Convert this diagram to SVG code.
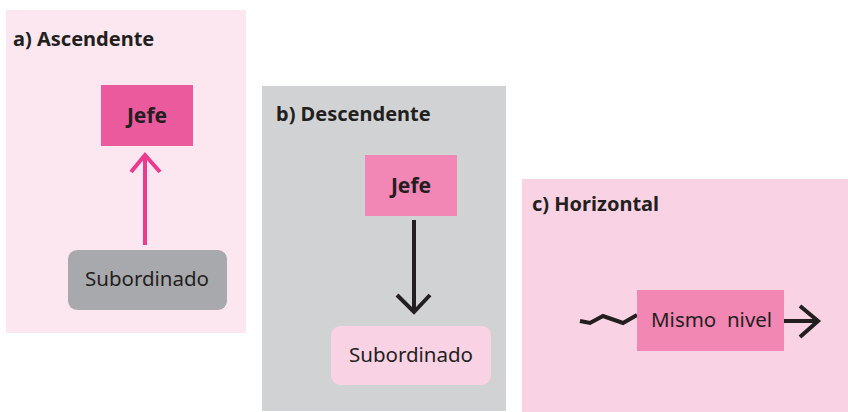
<svg xmlns="http://www.w3.org/2000/svg" width="848" height="412" viewBox="0 0 848 412">
<defs>
<style>
.title{font-family:"Noto Sans","Liberation Sans",sans-serif;font-weight:bold;font-size:20px;fill:#231f20}
.lbl{font-family:"Noto Sans","Liberation Sans",sans-serif;font-size:20.5px;fill:#231f20}
.blbl{font-family:"Noto Sans","Liberation Sans",sans-serif;font-weight:bold;font-size:21px;fill:#231f20}
.dark{fill:none;stroke:#231f20;stroke-width:4}
</style>
</defs>
<rect width="848" height="412" fill="#ffffff"/>
<g id="panel-a">
<rect x="6" y="10" width="240" height="323" fill="#fce6f0"/>
<text class="title" x="13" y="46">a) Ascendente</text>
</g>
<g id="panel-b">
<rect x="262" y="86" width="244" height="325" fill="#d1d2d4"/>
<text class="title" x="276" y="121">b) Descendente</text>
</g>
<g id="panel-c">
<rect x="522" y="179" width="326" height="233" fill="#f9d3e4"/>
<text class="title" x="532" y="211">c) Horizontal</text>
</g>
<g id="connectors">
<path d="M145 245 V155 M131 172 L145 155 L160 172" fill="none" stroke="#ec3a8e" stroke-width="4"/>
<path class="dark" d="M414 220 V311 M397 295 L414 312 L430 295"/>
<path class="dark" d="M580 321 L590 323 L603 316 L623 323 L637 315"/>
<path class="dark" d="M784 321 H818 M800 306 L818 321 L800 337"/>
</g>
<g id="jefe-a">
<rect x="101" y="85" width="92" height="61" fill="#ec5a9e"/>
<text class="blbl" x="147" y="123" text-anchor="middle">Jefe</text>
</g>
<g id="subordinado-a">
<rect x="68" y="250" width="159" height="60" rx="9" fill="#a8a9ad"/>
<text class="lbl" x="147" y="286" text-anchor="middle">Subordinado</text>
</g>
<g id="jefe-b">
<rect x="365" y="155" width="92" height="61" fill="#f286b4"/>
<text class="blbl" x="411" y="193" text-anchor="middle">Jefe</text>
</g>
<g id="subordinado-b">
<rect x="331" y="326" width="160" height="59" rx="9" fill="#f9d2e3"/>
<text class="lbl" x="411" y="362" text-anchor="middle">Subordinado</text>
</g>
<g id="mismo-nivel">
<rect x="637" y="290" width="147" height="61" fill="#f287b4"/>
<text class="lbl" x="651" y="327" xml:space="preserve">Mismo  nivel</text>
</g>
</svg>
